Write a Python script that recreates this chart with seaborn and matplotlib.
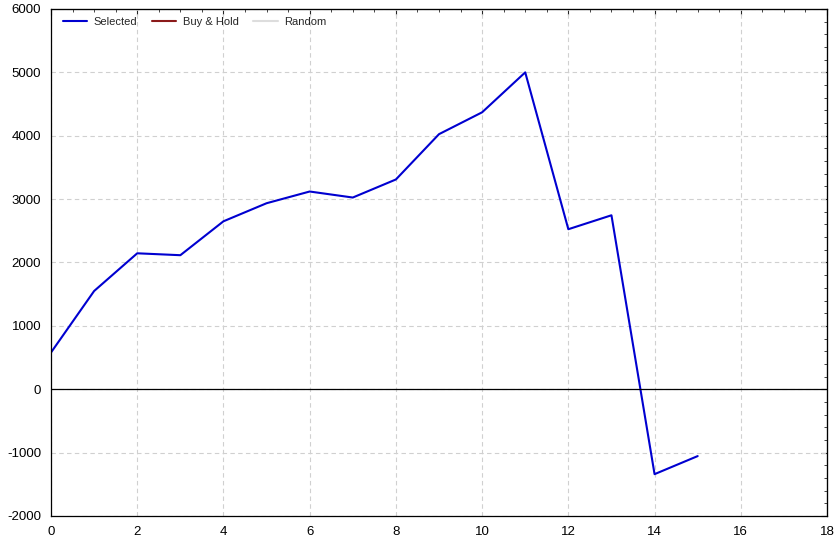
import matplotlib
matplotlib.use("Agg")
import matplotlib.pyplot as plt
import seaborn as sns
import pandas as pd
from matplotlib.ticker import MultipleLocator, NullFormatter

periods = list(range(16))
selected = [580, 1550, 2145, 2115, 2650, 2935, 3120, 3025, 3310, 4025, 4370, 5000, 2525, 2745, -1340, -1055]

df = pd.DataFrame({"period": periods, "value": selected})

sns.set_style("white")
plt.rcParams["font.family"] = ["Liberation Sans", "DejaVu Sans"]
plt.rcParams["axes.unicode_minus"] = False

fig = plt.figure(figsize=(8.39, 5.42), dpi=100)
ax = fig.add_axes([0.0608, 0.048, 0.9249, 0.9354])

sns.lineplot(data=df, x="period", y="value", ax=ax, color="#0000d0", linewidth=1.5, label="Selected")
ax.plot([], [], color="#8b1a1a", linewidth=1.5, label="Buy & Hold")
ax.plot([], [], color="#dddddd", linewidth=1.5, label="Random")
ax.axhline(0, color="black", linewidth=0.9)

ax.set_xlim(0, 18)
ax.set_ylim(-2000, 6000)
ax.xaxis.set_major_locator(MultipleLocator(2))
ax.xaxis.set_minor_locator(MultipleLocator(0.5))
ax.yaxis.set_major_locator(MultipleLocator(1000))
ax.yaxis.set_minor_locator(MultipleLocator(200))
ax.grid(True, which="major", color="#d0d0d0", linestyle=(0, (4, 3)), linewidth=0.8)
ax.tick_params(which="both", direction="inout", labelsize=9.5, colors="black")
ax.tick_params(which="major", length=7)
ax.tick_params(which="minor", length=4)
for s in ax.spines.values():
    s.set_color("black")
    s.set_linewidth(0.9)
ax.set_xlabel("")
ax.set_ylabel("")

# inward-only ticks on top and right edges
top = ax.secondary_xaxis("top")
top.xaxis.set_major_locator(MultipleLocator(2))
top.xaxis.set_minor_locator(MultipleLocator(0.5))
top.xaxis.set_major_formatter(NullFormatter())
top.tick_params(which="major", direction="in", length=4)
top.tick_params(which="minor", direction="in", length=2)
right = ax.secondary_yaxis("right")
right.yaxis.set_major_locator(MultipleLocator(1000))
right.yaxis.set_minor_locator(MultipleLocator(200))
right.yaxis.set_major_formatter(NullFormatter())
right.tick_params(which="major", direction="in", length=4)
right.tick_params(which="minor", direction="in", length=2)

ax.legend(loc="upper left", ncol=3, frameon=False, fontsize=8, handlelength=2.2,
          handletextpad=0.6, columnspacing=1.3, borderaxespad=0.3, borderpad=0.4,
          bbox_to_anchor=(0.005, 1.0))

fig.savefig("out.png", dpi=100)
